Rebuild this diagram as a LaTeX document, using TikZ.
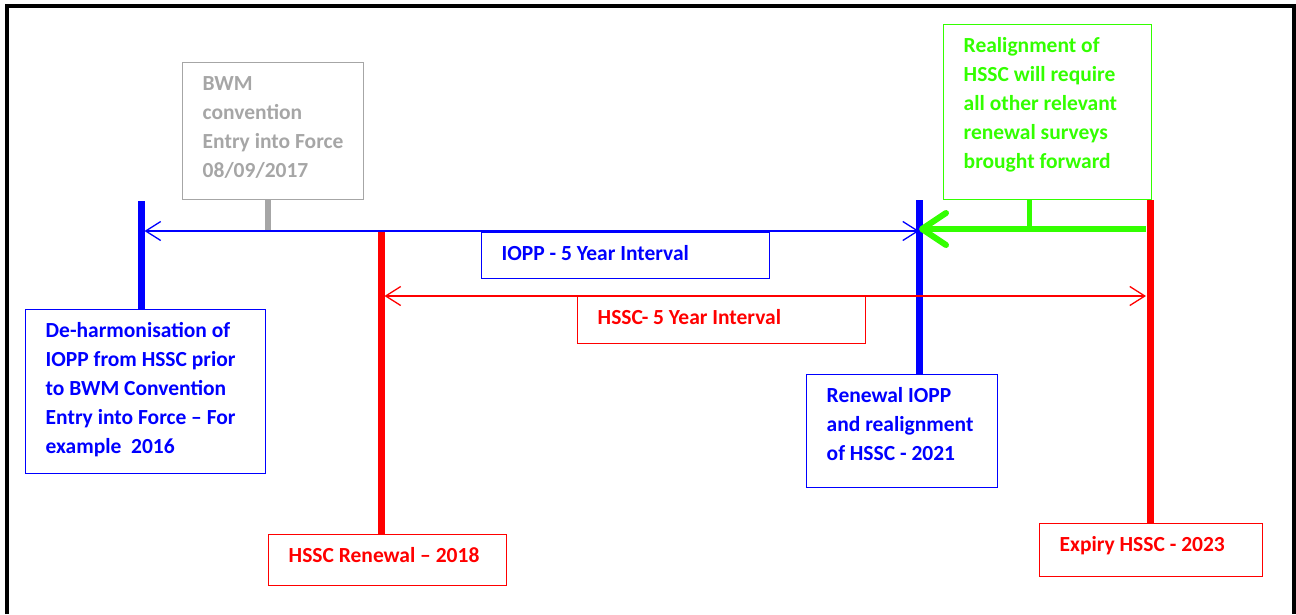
\documentclass[tikz,border=0pt]{standalone}
\usepackage{fontspec}
\setmainfont{Carlito}
\usetikzlibrary{arrows.meta}

\definecolor{ioppblue}{RGB}{0,0,255}
\definecolor{hsscred}{RGB}{255,0,0}
\definecolor{bwmgray}{RGB}{166,166,166}
\definecolor{realigngreen}{RGB}{51,255,0}

% text block: width, height, lines
\newcommand{\boxtext}[3]{\parbox[t][#2][t]{#1}{\begin{tabular}[t]{@{}l@{}}#3\end{tabular}}}

\begin{document}
\begin{tikzpicture}[x=1pt,y=-1pt,
  note/.style={draw,line width=1.4pt,anchor=north west,inner xsep=20pt,inner ysep=7pt,
    font=\bfseries\fontsize{21.5}{29}\selectfont},
  bar/.style={line width=7pt},
  spanline/.style={line width=1.3pt,
    {Straight Barb[length=15pt,width=19pt]}-{Straight Barb[length=15pt,width=19pt]}}]

  \useasboundingbox (0,0) rectangle (1296,614);

  % frame
  \draw[line width=4pt] (7,614) -- (7,5.5) -- (1294,5.5) -- (1294,614);

  % boxes
  \node[note,draw=bwmgray,text=bwmgray] (bwm) at (182,62)
    {\boxtext{141pt}{123pt}{BWM\\convention\\Entry into Force\\08/09/2017}};
  \node[note,draw=ioppblue,text=ioppblue] (deharm) at (25,309)
    {\boxtext{200pt}{150pt}{De-harmonisation of\\IOPP from HSSC prior\\to BWM Convention\\Entry into Force -- For\\example\ \ 2016}};
  \node[note,draw=hsscred,text=hsscred] (hsscren) at (268,534)
    {\boxtext{198pt}{37pt}{HSSC Renewal -- 2018}};
  \node[note,draw=ioppblue,text=ioppblue] (ioppint) at (481,232)
    {\boxtext{248pt}{32pt}{IOPP - 5 Year Interval}};
  \node[note,draw=hsscred,text=hsscred] (hsscint) at (577,296)
    {\boxtext{248pt}{33pt}{HSSC- 5 Year Interval}};
  \node[note,draw=ioppblue,text=ioppblue] (reniopp) at (806,374)
    {\boxtext{151pt}{99pt}{Renewal IOPP\\and realignment\\of HSSC - 2021}};
  \node[note,draw=hsscred,text=hsscred] (expiry) at (1039,523)
    {\boxtext{183pt}{39pt}{Expiry HSSC - 2023}};
  \node[note,draw=realigngreen,text=realigngreen] (realign) at (943,24)
    {\boxtext{168pt}{161pt}{Realignment of\\HSSC will require\\all other relevant\\renewal surveys\\brought forward}};

  % timeline points
  \coordinate (e16) at (141,201);
  \coordinate (e17) at (268,231);
  \coordinate (e18) at (381,231);
  \coordinate (e21) at (919,200);
  \coordinate (e23) at (1150,200);
  \coordinate (eg) at (1029,229);

  % bars
  \draw[bar,ioppblue] (e16) -- (e16 |- deharm.north);
  \draw[bar,hsscred] (e18) -- (e18 |- hsscren.north);
  \draw[bar,ioppblue] (e21) -- (e21 |- reniopp.north);
  \draw[bar,hsscred] (e23) -- (e23 |- expiry.north);
  \draw[line width=6pt,bwmgray] (bwm.south -| e17) -- (e17);
  \draw[line width=5pt,realigngreen] (realign.south -| eg) -- (eg);

  % intervals
  \draw[spanline,ioppblue,shorten <=3.5pt] (e16 |- e18) -- (e21 |- e18);
  \draw[spanline,hsscred,shorten <=3.5pt,shorten >=4pt] (e18 |- hsscint.north) -- (e23 |- hsscint.north);
  \draw[line width=6pt,realigngreen,shorten <=4pt,
    -{Straight Barb[length=24pt,width=32pt,round]}] (e23 |- eg) -- (e21 |- eg);

\end{tikzpicture}
\end{document}
